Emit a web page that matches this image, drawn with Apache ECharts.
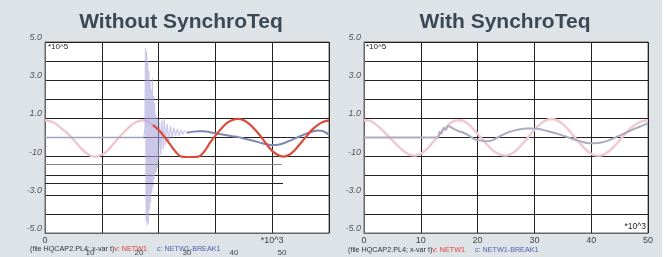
<!DOCTYPE html>
<html><head><meta charset="utf-8">
<script src="https://cdn.jsdelivr.net/npm/echarts@6/dist/echarts.min.js"></script>
<style>html,body{margin:0;padding:0;background:#dee3e8;}#c{width:667px;height:257px;}</style>
</head><body><div id="c"></div>
<script>
// ---- data (t in ms, values in *10^5) ----
const titles = ['Without SynchroTeq', 'With SynchroTeq'];
const yTickLabels = {'5':'5.0','3':'3.0','1':'1.0','-1':'-10','-3':'-3.0','-5':'-5.0'};
const xTicksRight = [0,10,20,30,40,50];
const misplacedLeftLabels = ['10','20','30','40','50'];

// Left panel: v: NETW1 before closing (faint)
const lRedPreT = [0,1,2,3,4,5,6,7,8,9,10,11,12,13,14,15,16,17,18,19];
const lRedPreV = [0.9,0.85,0.7,0.45,0.2,-0.1,-0.45,-0.75,-0.95,-1.0,-0.9,-0.7,-0.35,0.0,0.3,0.6,0.8,0.9,0.85,0.65];
// Left panel: v: NETW1 after closing
const lRedPostT = [19,20,21,22,23,24,25,26,27,28,29,30,31,32,33,34,35,36,37,38,39,40,41,42,43,44,45,46,47,48,49,50];
const lRedPostV = [0.65,0.4,0.05,-0.35,-0.75,-1.0,-1.02,-1.02,-1.0,-0.75,-0.3,0.1,0.45,0.75,0.92,0.98,0.9,0.7,0.4,0.05,-0.35,-0.7,-0.92,-1.0,-0.9,-0.65,-0.3,0.05,0.4,0.65,0.82,0.9];
// Left panel: c: NETW1-BREAK1 before closing
const lBluePreT = [0,17.4];
const lBluePreV = [0,0];
// Left panel: closing transient
const lSpikeT = [17.4,17.6,17.7,17.8,17.9,18.0,18.1,18.2,18.3,18.4,18.5,18.6,18.7,18.8,18.9,19.0,19.1,19.2,19.3,19.4,19.5,19.6,19.7,19.8,19.9,20.0,20.2,20.4,20.6,20.8,21.0,21.2,21.5,21.8,22.1,22.4,22.7,23.0,23.3,23.6,23.9,24.2,24.5,25.0];
const lSpikeV = [0,0.5,4.7,-4.4,4.5,-4.6,4.0,-4.5,3.5,-3.8,3.0,-3.4,2.5,-2.9,3.1,-2.6,2.2,-2.2,1.8,-1.9,1.2,-1.8,1.0,-1.6,0.9,-1.2,0.8,-0.9,0.9,-0.6,1.0,-0.4,0.7,-0.2,0.6,0.0,0.5,0.1,0.45,0.1,0.4,0.15,0.35,0.25];
// Left panel: c: NETW1-BREAK1 steady state
const lBluePostT = [25,26,27,28,29,30,31,32,33,34,35,36,37,38,39,40,41,42,43,44,45,46,47,48,49,50];
const lBluePostV = [0.25,0.3,0.33,0.33,0.28,0.22,0.17,0.12,0.07,0.02,-0.05,-0.12,-0.2,-0.28,-0.35,-0.4,-0.38,-0.3,-0.18,-0.05,0.08,0.2,0.3,0.37,0.33,0.15];
// Left panel stray lines: [tStart, tEnd, value]
const strayLines = [[0,41.7,-1.41],[0,41.9,-2.41]];

// Right panel: v: NETW1
const rRedT = [0,1,2,3,4,5,6,7,8,9,10,11,12,13,14,15,16,17,18,19,20,21,22,23,24,25,26,27,28,29,30,31,32,33,34,35,36,37,38,39,40,41,42,43,44,45,46,47,48,49,50];
const rRedV = [0.9,0.88,0.7,0.45,0.15,-0.15,-0.45,-0.72,-0.9,-0.95,-0.85,-0.62,-0.3,0.05,0.4,0.7,0.88,0.9,0.78,0.52,0.2,-0.15,-0.48,-0.75,-0.9,-0.95,-0.85,-0.62,-0.3,0.05,0.4,0.7,0.9,0.97,0.9,0.7,0.4,0.05,-0.3,-0.62,-0.85,-0.95,-0.92,-0.75,-0.48,-0.15,0.2,0.5,0.72,0.85,0.9];
// Right panel: c: NETW1-BREAK1
const rGrayT = [0,13.0,13.3,13.6,14.0,14.4,14.8,15.5,16.5,17.5,18.5,19.5,20.5,21.5,22.5,23.5,24.5,25.5,27,28.5,30,31.5,33,34.5,36,37.5,39,40.5,42,43.5,45,46.5,48,49,50];
const rGrayV = [0,0,0.3,0.2,0.5,0.4,0.6,0.5,0.35,0.25,0.1,-0.1,-0.15,-0.2,-0.15,0.0,0.15,0.28,0.4,0.47,0.47,0.4,0.28,0.15,0.0,-0.15,-0.27,-0.3,-0.25,-0.1,0.1,0.3,0.5,0.62,0.75];

const zip = (t, v) => t.map((x, i) => [x, v[i]]);

const FONT = 'Liberation Sans, Arial, sans-serif';
const chart = echarts.init(document.getElementById('c'), null, {renderer: 'canvas'});

const grids = [
  {left: 45, top: 42, width: 284, height: 191},
  {left: 364, top: 42, width: 284, height: 191}
];
function yAxis(gi) {
  return {
    type: 'value', gridIndex: gi, min: -5, max: 5, interval: 1,
    axisLine: {show: true, lineStyle: {color: '#666', width: 1}},
    axisTick: {show: false},
    splitLine: {show: true, lineStyle: {color: '#222', width: 1}},
    axisLabel: {
      margin: 3, verticalAlign: 'bottom', fontFamily: FONT, fontSize: 9,
      fontStyle: 'italic', color: '#555',
      formatter: v => yTickLabels[String(v)] || ''
    }
  };
}
function xAxis(gi, fmt) {
  return {
    type: 'value', gridIndex: gi, min: 0, max: 50, interval: 10,
    axisLine: {show: true, onZero: false, lineStyle: {color: '#666', width: 1}},
    axisTick: {show: false},
    splitLine: {show: true, lineStyle: {color: '#222', width: 1}},
    axisLabel: {margin: 3, fontFamily: FONT, fontSize: 9, color: '#444', formatter: fmt, showMaxLabel: true, showMinLabel: true}
  };
}
function line(xi, data, color, width, z, opacity) {
  return {type: 'line', xAxisIndex: xi, yAxisIndex: xi, data, smooth: 0.35, showSymbol: false,
    symbol: 'none', lineStyle: {color, width, opacity: opacity == null ? 1 : opacity}, z: z || 2, animation: false, silent: true};
}

const legendRich = {
  a: {fontFamily: FONT, fontSize: 7.2, fill: '#333'},
  b: {fontFamily: FONT, fontSize: 7.2, fill: '#e0403a'},
  c: {fontFamily: FONT, fontSize: 7.2, fill: '#4f5fb0'}
};
const legendText = '{a|(file HQCAP2.PL4; x-var t)}{b|v: NETW1}{a|     }{c|c: NETW1-BREAK1}';

const graphics = [
  {type: 'rect', left: 662, top: 0, shape: {width: 5, height: 257}, style: {fill: '#fff'}, z: -1},
  {type: 'text', x: 181, y: 22, style: {text: titles[0], fontFamily: FONT, fontWeight: 'bold', fontSize: 21, fill: '#3b4855', textAlign: 'center', textVerticalAlign: 'middle'}},
  {type: 'text', x: 505, y: 22, style: {text: titles[1], fontFamily: FONT, fontWeight: 'bold', fontSize: 21, fill: '#3b4855', textAlign: 'center', textVerticalAlign: 'middle'}},
  {type: 'text', x: 48, y: 47, z: 10, style: {text: '*10^5', fontFamily: FONT, fontSize: 8, fill: '#222', textVerticalAlign: 'middle'}},
  {type: 'text', x: 366, y: 47, z: 10, style: {text: '*10^5', fontFamily: FONT, fontSize: 8, fill: '#222', textVerticalAlign: 'middle'}},
  {type: 'text', x: 646, y: 227, z: 10, style: {text: '*10^3', fontFamily: FONT, fontSize: 8.5, fill: '#222', textAlign: 'right', textVerticalAlign: 'middle'}},
  {type: 'text', x: 30, y: 249, style: {text: legendText, rich: legendRich, textVerticalAlign: 'middle'}},
  {type: 'text', x: 348, y: 250, style: {text: legendText, rich: legendRich, textVerticalAlign: 'middle'}}
];
const misX = [90, 139, 187, 234, 282];
misplacedLeftLabels.forEach((s, i) => graphics.push({type: 'text', x: misX[i], y: 253,
  style: {text: s, fontFamily: FONT, fontSize: 8, fill: '#444', textAlign: 'center', textVerticalAlign: 'middle'}}));

const strayColors = ['#888', '#222'];
const option = {
  animation: false,
  backgroundColor: '#dee3e8',
  grid: grids.map(g => Object.assign({show: true, backgroundColor: '#fff', borderColor: '#666', borderWidth: 1}, g)),
  xAxis: [xAxis(0, v => v === 0 ? '0' : (v === 40 ? '*10^3' : '')), xAxis(1, v => String(v))],
  yAxis: [yAxis(0), yAxis(1)],
  series: [
    Object.assign(line(0, zip(lRedPreT, lRedPreV), '#f0c3cb', 2.2, 2), {
      markLine: {symbol: 'none', silent: true, animation: false, label: {show: false},
        data: strayLines.map((s, i) => [{coord: [s[0], s[2]], lineStyle: {color: strayColors[i], width: 1, type: 'solid'}}, {coord: [s[1], s[2]]}])}
    }),
    line(0, zip(lBluePreT, lBluePreV), '#9ea3c4', 1.5, 3),
    Object.assign(line(0, zip(lSpikeT, lSpikeV), '#a8a2d8', 1.2, 3, 0.6), {smooth: false}),
    line(0, zip(lBluePostT, lBluePostV), '#7c88b2', 2, 3),
    line(0, zip(lRedPostT, lRedPostV), '#dc4a3a', 2.2, 4),
    line(1, zip(rRedT, rRedV), '#f1c8d0', 2.4, 2),
    line(1, zip(rGrayT, rGrayV), '#aeaac2', 2, 3)
  ],
  graphic: graphics
};
chart.setOption(option);
</script></body></html>
